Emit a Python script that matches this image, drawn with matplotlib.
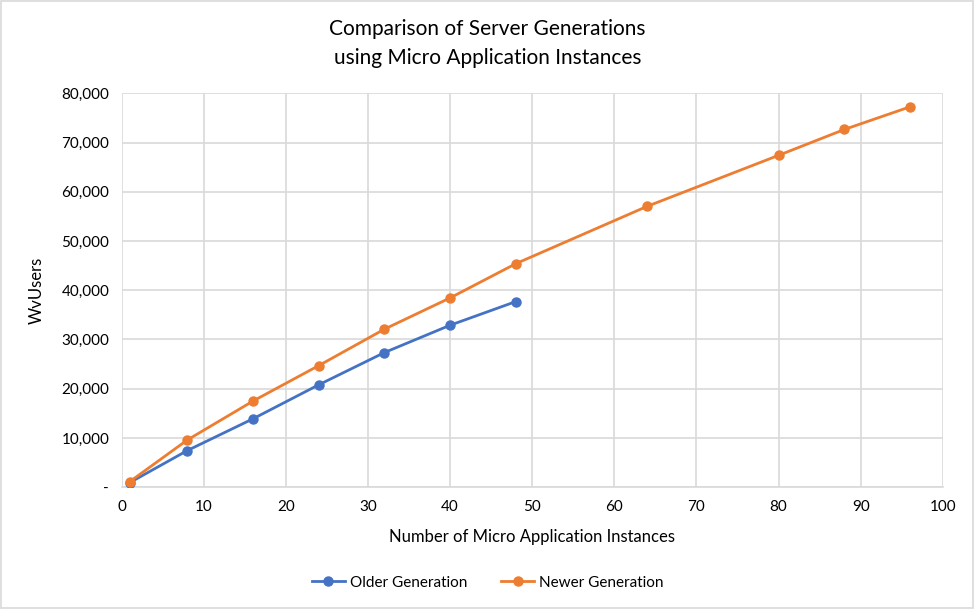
import matplotlib
matplotlib.use("Agg")
import matplotlib.pyplot as plt
from matplotlib.ticker import FuncFormatter

plt.rcParams['font.family'] = ['Lato', 'DejaVu Sans']

# data
older_x = [1, 8, 16, 24, 32, 40, 48]
older_y = [950, 7450, 13900, 20800, 27350, 32900, 37700]
newer_x = [1, 8, 16, 24, 32, 40, 48, 64, 80, 88, 96]
newer_y = [1150, 9600, 17500, 24700, 32100, 38450, 45400, 57050, 67400, 72650, 77250]

x_ticks = list(range(0, 101, 10))
y_ticks = list(range(0, 80001, 10000))

blue = '#4472C4'
orange = '#ED7D31'
grid_c = '#D9D9D9'
text_c = '#000000'

fig = plt.figure(figsize=(9.75, 6.09), dpi=100)
ax = fig.add_axes([0.1248, 0.2, 0.967 - 0.1248, 0.8468 - 0.2])

ax.plot(older_x, older_y, '-o', color=blue, lw=2, ms=6.5, label='Older Generation', zorder=3)
ax.plot(newer_x, newer_y, '-o', color=orange, lw=2, ms=6.5, label='Newer Generation', zorder=3)

ax.set_xlim(0, 100)
ax.set_ylim(0, 80000)
ax.set_xticks(x_ticks)
ax.set_yticks(y_ticks)
ax.yaxis.set_major_formatter(FuncFormatter(lambda v, p: '-' if v == 0 else f'{int(v):,}'))
ax.grid(True, color=grid_c, lw=1.2)
ax.set_axisbelow(True)
for s in ax.spines.values():
    s.set_visible(False)
ax.spines['bottom'].set_visible(True)
ax.spines['bottom'].set_color(grid_c)
ax.spines['bottom'].set_linewidth(1.2)
ax.tick_params(length=0, labelsize=11, colors=text_c, pad=9)

ax.set_xlabel('Number of Micro Application Instances', fontsize=12, labelpad=11)
ax.set_ylabel('WvUsers', fontsize=12, labelpad=12)

fig.text(0.5, 0.928, 'Comparison of Server Generations\nusing Micro Application Instances',
         ha='center', va='center', fontsize=15, linespacing=1.55)

fig.legend(loc='center', bbox_to_anchor=(0.5, 0.043), ncol=2, frameon=False,
           fontsize=11, handlelength=2.2, handletextpad=0.3, columnspacing=2.2)

# chart border
fig.patches.append(plt.Rectangle((0.001, 0.001), 0.997, 0.997, transform=fig.transFigure,
                                 fill=False, edgecolor='#D9D9D9', lw=1.2))

fig.savefig('out.png', dpi=100)
